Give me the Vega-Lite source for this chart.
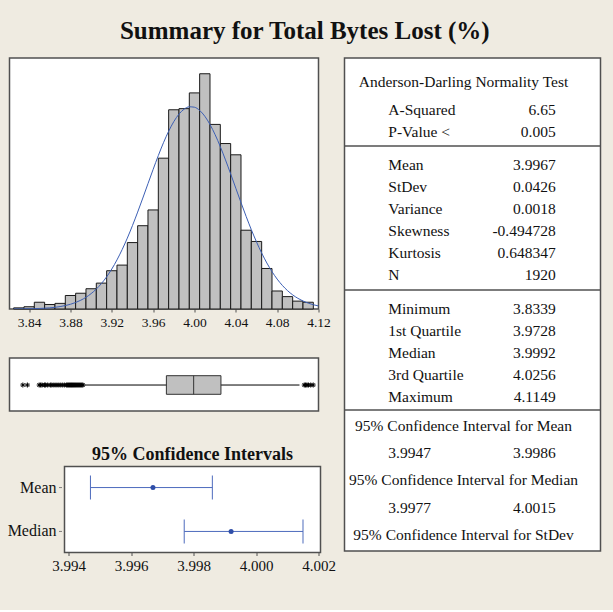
{
  "$schema": "https://vega.github.io/schema/vega-lite/v6.json",
  "background": "#efebe1",
  "padding": {"left": 7.5, "top": 19, "right": 12, "bottom": 35},
  "title": {"text": "Summary for Total Bytes Lost (%)", "font": "Liberation Serif", "fontSize": 25, "fontWeight": "bold", "color": "#111111", "anchor": "middle", "offset": 13},
  "config": {
    "view": {"stroke": "#505050", "strokeWidth": 1.5, "fill": "white"},
    "font": "Liberation Serif",
    "axis": {"labelFont": "Liberation Serif", "labelColor": "#111111", "tickColor": "#505050", "domain": false, "grid": false}
  },
  "datasets": {
    "hist": [
      {"lo": 3.825, "hi": 3.835, "count": 1},
      {"lo": 3.835, "hi": 3.845, "count": 2},
      {"lo": 3.845, "hi": 3.855, "count": 6},
      {"lo": 3.855, "hi": 3.865, "count": 4},
      {"lo": 3.865, "hi": 3.875, "count": 5},
      {"lo": 3.875, "hi": 3.885, "count": 12},
      {"lo": 3.885, "hi": 3.895, "count": 14},
      {"lo": 3.895, "hi": 3.905, "count": 18},
      {"lo": 3.905, "hi": 3.915, "count": 23},
      {"lo": 3.915, "hi": 3.925, "count": 34},
      {"lo": 3.925, "hi": 3.935, "count": 39},
      {"lo": 3.935, "hi": 3.945, "count": 59},
      {"lo": 3.945, "hi": 3.955, "count": 74},
      {"lo": 3.955, "hi": 3.965, "count": 88},
      {"lo": 3.965, "hi": 3.975, "count": 134},
      {"lo": 3.975, "hi": 3.985, "count": 177},
      {"lo": 3.985, "hi": 3.995, "count": 178},
      {"lo": 3.995, "hi": 4.005, "count": 192},
      {"lo": 4.005, "hi": 4.015, "count": 209},
      {"lo": 4.015, "hi": 4.025, "count": 164},
      {"lo": 4.025, "hi": 4.035, "count": 147},
      {"lo": 4.035, "hi": 4.045, "count": 137},
      {"lo": 4.045, "hi": 4.055, "count": 70},
      {"lo": 4.055, "hi": 4.065, "count": 60},
      {"lo": 4.065, "hi": 4.075, "count": 36},
      {"lo": 4.075, "hi": 4.085, "count": 16},
      {"lo": 4.085, "hi": 4.095, "count": 11},
      {"lo": 4.095, "hi": 4.105, "count": 7},
      {"lo": 4.105, "hi": 4.115, "count": 6}
    ],
    "curve": [
      {"x": 3.825, "fit": 0.05}, {"x": 3.83, "fit": 0.09}, {"x": 3.835, "fit": 0.13}, {"x": 3.84, "fit": 0.21},
      {"x": 3.845, "fit": 0.32}, {"x": 3.85, "fit": 0.48}, {"x": 3.855, "fit": 0.71}, {"x": 3.86, "fit": 1.04},
      {"x": 3.865, "fit": 1.51}, {"x": 3.87, "fit": 2.16}, {"x": 3.875, "fit": 3.04}, {"x": 3.88, "fit": 4.22},
      {"x": 3.885, "fit": 5.78}, {"x": 3.89, "fit": 7.81}, {"x": 3.895, "fit": 10.4}, {"x": 3.9, "fit": 13.68},
      {"x": 3.905, "fit": 17.73}, {"x": 3.91, "fit": 22.67}, {"x": 3.915, "fit": 28.59}, {"x": 3.92, "fit": 35.55},
      {"x": 3.925, "fit": 43.62}, {"x": 3.93, "fit": 52.79}, {"x": 3.935, "fit": 62.98}, {"x": 3.94, "fit": 74.15},
      {"x": 3.945, "fit": 86.09}, {"x": 3.95, "fit": 98.58}, {"x": 3.955, "fit": 111.35}, {"x": 3.96, "fit": 124.06},
      {"x": 3.965, "fit": 136.31}, {"x": 3.97, "fit": 147.74}, {"x": 3.975, "fit": 157.92}, {"x": 3.98, "fit": 166.51},
      {"x": 3.985, "fit": 173.15}, {"x": 3.99, "fit": 177.59}, {"x": 3.995, "fit": 179.66}, {"x": 4.0, "fit": 179.26},
      {"x": 4.005, "fit": 176.42}, {"x": 4.01, "fit": 171.24}, {"x": 4.015, "fit": 163.94}, {"x": 4.02, "fit": 154.83},
      {"x": 4.025, "fit": 144.2}, {"x": 4.03, "fit": 132.46}, {"x": 4.035, "fit": 120.03}, {"x": 4.04, "fit": 107.27},
      {"x": 4.045, "fit": 94.54}, {"x": 4.05, "fit": 82.2}, {"x": 4.055, "fit": 70.48}, {"x": 4.06, "fit": 59.62},
      {"x": 4.065, "fit": 49.73}, {"x": 4.07, "fit": 40.9}, {"x": 4.075, "fit": 33.21}, {"x": 4.08, "fit": 26.57},
      {"x": 4.085, "fit": 20.98}, {"x": 4.09, "fit": 16.34}, {"x": 4.095, "fit": 12.55}, {"x": 4.1, "fit": 9.51},
      {"x": 4.105, "fit": 7.1}, {"x": 4.11, "fit": 5.23}, {"x": 4.115, "fit": 3.8}, {"x": 4.12, "fit": 2.73}
    ],
    "box": [
      {"wlo": 3.8936, "q1": 3.9728, "median": 3.9992, "q3": 4.0256, "whi": 4.1016}
    ],
    "outliers": [
      {"value": 3.8339}, {"value": 3.8383}, {"value": 3.8497}, {"value": 3.8512}, {"value": 3.8525},
      {"value": 3.8548}, {"value": 3.856}, {"value": 3.858}, {"value": 3.8605}, {"value": 3.862},
      {"value": 3.864}, {"value": 3.866}, {"value": 3.868}, {"value": 3.87}, {"value": 3.872},
      {"value": 3.874}, {"value": 3.876}, {"value": 3.877}, {"value": 3.878}, {"value": 3.879},
      {"value": 3.88}, {"value": 3.881}, {"value": 3.882}, {"value": 3.883}, {"value": 3.884},
      {"value": 3.885}, {"value": 3.886}, {"value": 3.887}, {"value": 3.888}, {"value": 3.889},
      {"value": 3.89}, {"value": 3.891}, {"value": 3.892},
      {"value": 4.1062}, {"value": 4.1075}, {"value": 4.1088}, {"value": 4.1102}, {"value": 4.1125}, {"value": 4.1149}
    ],
    "ci": [
      {"stat": "Mean", "lo": 3.9947, "est": 3.9967, "hi": 3.9986},
      {"stat": "Median", "lo": 3.9977, "est": 3.9992, "hi": 4.0015}
    ],
    "table": [
      {"kind": "head", "line": 1.1, "label": "Anderson-Darling Normality Test", "value": ""},
      {"kind": "row", "line": 2.35, "label": "A-Squared", "value": "6.65"},
      {"kind": "row", "line": 3.35, "label": "P-Value <", "value": "0.005"},
      {"kind": "sep", "line": 4.0, "label": "", "value": ""},
      {"kind": "row", "line": 4.85, "label": "Mean", "value": "3.9967"},
      {"kind": "row", "line": 5.85, "label": "StDev", "value": "0.0426"},
      {"kind": "row", "line": 6.85, "label": "Variance", "value": "0.0018"},
      {"kind": "row", "line": 7.85, "label": "Skewness", "value": "-0.494728"},
      {"kind": "row", "line": 8.85, "label": "Kurtosis", "value": "0.648347"},
      {"kind": "row", "line": 9.85, "label": "N", "value": "1920"},
      {"kind": "sep", "line": 10.55, "label": "", "value": ""},
      {"kind": "row", "line": 11.4, "label": "Minimum", "value": "3.8339"},
      {"kind": "row", "line": 12.4, "label": "1st Quartile", "value": "3.9728"},
      {"kind": "row", "line": 13.4, "label": "Median", "value": "3.9992"},
      {"kind": "row", "line": 14.4, "label": "3rd Quartile", "value": "4.0256"},
      {"kind": "row", "line": 15.4, "label": "Maximum", "value": "4.1149"},
      {"kind": "sep", "line": 16.0, "label": "", "value": ""},
      {"kind": "head", "line": 16.75, "label": "95% Confidence Interval for Mean", "value": ""},
      {"kind": "row", "line": 17.95, "label": "3.9947", "value": "3.9986"},
      {"kind": "head", "line": 19.2, "label": "95% Confidence Interval for Median", "value": ""},
      {"kind": "row", "line": 20.45, "label": "3.9977", "value": "4.0015"},
      {"kind": "head", "line": 21.7, "label": "95% Confidence Interval for StDev", "value": ""}
    ]
  },
  "spacing": 6,
  "hconcat": [
    {
      "spacing": 32.5,
      "vconcat": [
        {
          "spacing": 27,
          "vconcat": [
            {
              "width": 309,
              "height": 251,
              "layer": [
                {
                  "data": {"name": "hist"},
                  "mark": {"type": "rect", "fill": "#c0c0c0", "stroke": "#1a1a1a", "strokeWidth": 1},
                  "encoding": {
                    "x": {"field": "lo", "type": "quantitative", "scale": {"domain": [3.821, 4.12], "nice": false, "zero": false},
                      "axis": {"title": null, "values": [3.84, 3.88, 3.92, 3.96, 4.0, 4.04, 4.08, 4.12], "format": ".2f", "labelFontSize": 13.5, "tickSize": 3, "labelPadding": 3, "labelFlush": false, "labelOverlap": false}},
                    "x2": {"field": "hi"},
                    "y": {"field": "count", "type": "quantitative", "scale": {"domain": [0, 223], "nice": false}, "axis": null},
                    "y2": {"datum": 0}
                  }
                },
                {
                  "data": {"name": "curve"},
                  "mark": {"type": "line", "color": "#3c5fb4", "strokeWidth": 1, "clip": true, "interpolate": "monotone"},
                  "encoding": {
                    "x": {"field": "x", "type": "quantitative", "scale": {"domain": [3.821, 4.12], "nice": false, "zero": false}},
                    "y": {"field": "fit", "type": "quantitative", "scale": {"domain": [0, 223], "nice": false}}
                  }
                }
              ]
            },
            {
              "width": 309,
              "height": 53,
              "layer": [
                {
                  "data": {"name": "box"},
                  "mark": {"type": "rule", "color": "#000000", "strokeWidth": 1},
                  "encoding": {
                    "x": {"field": "wlo", "type": "quantitative", "scale": {"domain": [3.821, 4.12], "nice": false, "zero": false}, "axis": null},
                    "x2": {"field": "whi"},
                    "y": {"datum": 0.49, "type": "quantitative", "scale": {"domain": [0, 1], "nice": false}, "axis": null}
                  }
                },
                {
                  "data": {"name": "box"},
                  "mark": {"type": "rect", "fill": "#c0c0c0", "stroke": "#333333", "strokeWidth": 1},
                  "encoding": {
                    "x": {"field": "q1", "type": "quantitative"},
                    "x2": {"field": "q3"},
                    "y": {"datum": 0.666, "type": "quantitative"},
                    "y2": {"datum": 0.315}
                  }
                },
                {
                  "data": {"name": "box"},
                  "mark": {"type": "rule", "color": "#333333", "strokeWidth": 1},
                  "encoding": {
                    "x": {"field": "median", "type": "quantitative"},
                    "y": {"datum": 0.666, "type": "quantitative"},
                    "y2": {"datum": 0.315}
                  }
                },
                {
                  "data": {"name": "outliers"},
                  "mark": {"type": "point", "shape": "M-1,0L1,0M0,-1L0,1M-0.7,-0.7L0.7,0.7M-0.7,0.7L0.7,-0.7", "filled": false, "stroke": "#000000", "strokeWidth": 1, "size": 25, "opacity": 1},
                  "encoding": {
                    "x": {"field": "value", "type": "quantitative"},
                    "y": {"datum": 0.49, "type": "quantitative"}
                  }
                }
              ]
            }
          ]
        },
        {
          "spacing": -12,
          "hconcat": [
            {
              "width": 53,
              "height": 86,
              "view": {"stroke": null, "fill": "#efebe1"},
              "data": {"name": "ci"},
              "layer": [
                {
                  "mark": {"type": "text", "align": "right", "baseline": "middle", "font": "Liberation Serif", "fontSize": 16, "color": "#111111", "dx": -6},
                  "encoding": {
                    "y": {"field": "stat", "type": "nominal", "sort": ["Mean", "Median"], "scale": {"type": "point", "padding": 0.48}, "axis": null},
                    "x": {"datum": 1, "type": "quantitative", "scale": {"domain": [0, 1], "nice": false, "zero": false}, "axis": null},
                    "text": {"field": "stat"}
                  }
                },
                {
                  "mark": {"type": "tick", "color": "#505050", "thickness": 1, "size": 3, "orient": "horizontal", "xOffset": -2},
                  "encoding": {
                    "y": {"field": "stat", "type": "nominal", "sort": ["Mean", "Median"]},
                    "x": {"datum": 1, "type": "quantitative"}
                  }
                }
              ]
            },
            {
              "width": 256,
              "height": 86,
              "title": {"text": "95% Confidence Intervals", "font": "Liberation Serif", "fontSize": 18, "fontWeight": "bold", "color": "#111111", "frame": "group", "anchor": "middle", "offset": 2.5},
              "data": {"name": "ci"},
              "encoding": {
                "y": {"field": "stat", "type": "nominal", "sort": ["Mean", "Median"], "scale": {"type": "point", "padding": 0.48}, "axis": null}
              },
              "layer": [
                {
                  "mark": {"type": "rule", "color": "#4d6bbd", "strokeWidth": 1},
                  "encoding": {
                    "x": {"field": "lo", "type": "quantitative", "scale": {"domain": [3.99387, 4.00206], "nice": false, "zero": false},
                      "axis": {"title": null, "values": [3.994, 3.996, 3.998, 4.0, 4.002], "format": ".3f", "labelFontSize": 15, "tickSize": 3, "labelPadding": 3, "labelFlush": false, "labelOverlap": false}},
                    "x2": {"field": "hi"}
                  }
                },
                {
                  "mark": {"type": "tick", "color": "#4d6bbd", "size": 24, "thickness": 1, "opacity": 1},
                  "encoding": {"x": {"field": "lo", "type": "quantitative"}}
                },
                {
                  "mark": {"type": "tick", "color": "#4d6bbd", "size": 24, "thickness": 1, "opacity": 1},
                  "encoding": {"x": {"field": "hi", "type": "quantitative"}}
                },
                {
                  "mark": {"type": "circle", "color": "#2f4ea8", "size": 25, "opacity": 1},
                  "encoding": {"x": {"field": "est", "type": "quantitative"}}
                }
              ]
            }
          ]
        }
      ]
    },
    {
      "width": 256,
      "height": 493,
      "data": {"name": "table"},
      "layer": [
        {
          "transform": [{"filter": "datum.kind === 'sep'"}],
          "mark": {"type": "rule", "color": "#505050", "strokeWidth": 1.5},
          "encoding": {
            "y": {"field": "line", "type": "quantitative", "scale": {"domain": [0, 22.41], "reverse": true, "nice": false, "zero": false}, "axis": null}
          }
        },
        {
          "transform": [{"filter": "datum.kind === 'head'"}],
          "mark": {"type": "text", "align": "center", "baseline": "middle", "font": "Liberation Serif", "fontSize": 15.5, "color": "#111111"},
          "encoding": {
            "y": {"field": "line", "type": "quantitative"},
            "x": {"datum": 0.465, "type": "quantitative", "scale": {"domain": [0, 1], "nice": false, "zero": false}, "axis": null},
            "text": {"field": "label"}
          }
        },
        {
          "transform": [{"filter": "datum.kind === 'row'"}],
          "mark": {"type": "text", "align": "left", "baseline": "middle", "font": "Liberation Serif", "fontSize": 15.5, "color": "#111111"},
          "encoding": {
            "y": {"field": "line", "type": "quantitative"},
            "x": {"datum": 0.171, "type": "quantitative"},
            "text": {"field": "label"}
          }
        },
        {
          "transform": [{"filter": "datum.kind === 'row'"}],
          "mark": {"type": "text", "align": "right", "baseline": "middle", "font": "Liberation Serif", "fontSize": 15.5, "color": "#111111"},
          "encoding": {
            "y": {"field": "line", "type": "quantitative"},
            "x": {"datum": 0.825, "type": "quantitative"},
            "text": {"field": "value"}
          }
        }
      ]
    }
  ]
}
